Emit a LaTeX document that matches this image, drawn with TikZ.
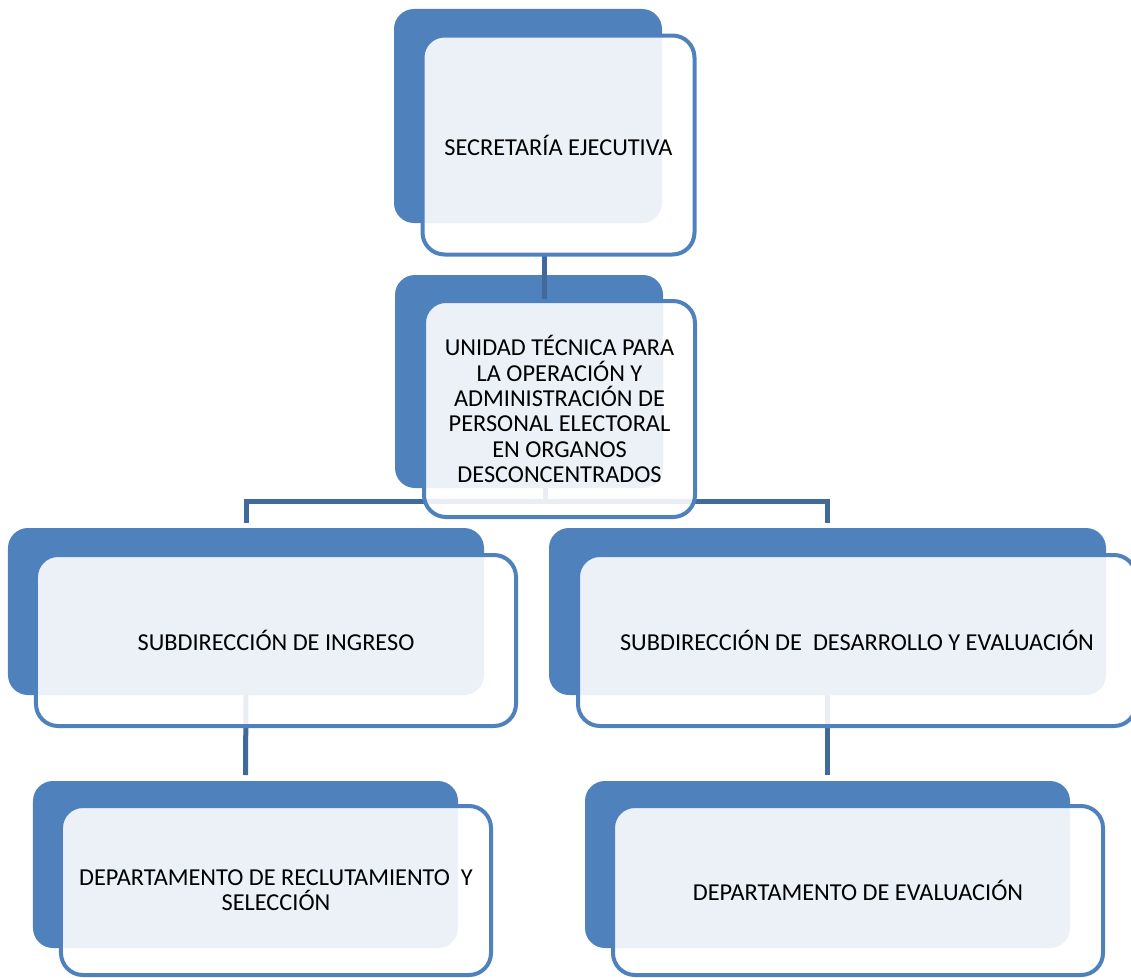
\documentclass[tikz,border=0pt]{standalone}
\usepackage{fontspec}
\setmainfont{Carlito}
\usetikzlibrary{calc}
\definecolor{accent}{HTML}{4F81BD}
\definecolor{conncol}{HTML}{41699C}
\pgfdeclarelayer{backl}
\pgfdeclarelayer{midl}
\pgfsetlayers{backl,midl,main}
\tikzset{
  backbox/.style={fill=accent, draw=none, rounded corners=20bp, inner sep=0pt, outer sep=0pt},
  frontbox/.style={draw=accent, line width=4bp, fill=white, fill opacity=0.89, text opacity=1,
    rounded corners=22bp, inner sep=0pt, outer sep=0pt, align=center, text=black,
    font=\fontsize{24.4}{25.4}\selectfont},
  conn/.style={draw=conncol, line width=5bp}
}
\begin{document}
\begin{tikzpicture}[x=1bp, y=-1bp]
\useasboundingbox (0,0) rectangle (1131,978);
\begin{pgfonlayer}{backl}
  \node[backbox, minimum width=268bp, minimum height=214bp] (secB) at (528,116) {};
  \node[backbox, minimum width=268bp, minimum height=213bp] (uniB) at (529,381.5) {};
  \node[backbox, minimum width=476bp, minimum height=167bp] (ingB) at (246,611.5) {};
  \node[backbox, minimum width=557bp, minimum height=167bp] (desB) at (827.5,611.5) {};
  \node[backbox, minimum width=425bp, minimum height=167bp] (depLB) at (245.5,864.5) {};
  \node[backbox, minimum width=485bp, minimum height=167bp] (depRB) at (827.5,864.5) {};
\end{pgfonlayer}
\node[frontbox, minimum width=272bp, minimum height=219bp] (secF) at (558.5,145) {SECRETARÍA EJECUTIVA};
\node[frontbox, minimum width=271bp, minimum height=216bp] (uniF) at (559.5,409)
  {UNIDAD TÉCNICA PARA\\LA OPERACIÓN Y\\ADMINISTRACIÓN DE\\PERSONAL ELECTORAL\\EN ORGANOS\\DESCONCENTRADOS};
\node[frontbox, minimum width=480bp, minimum height=171bp] (ingF) at (276,640.5) {SUBDIRECCIÓN DE INGRESO};
\node[frontbox, minimum width=558bp, minimum height=171bp] (desF) at (857,640.5) {SUBDIRECCIÓN DE\ \ DESARROLLO Y EVALUACIÓN};
\node[frontbox, minimum width=430bp, minimum height=169bp] (depLF) at (276,890.5) {DEPARTAMENTO DE RECLUTAMIENTO\ \ Y\\SELECCIÓN};
\node[frontbox, minimum width=490bp, minimum height=169bp] (depRF) at (858,890.5) {DEPARTAMENTO DE EVALUACIÓN};
\begin{pgfonlayer}{midl}
  \coordinate (c1) at ($(secB.south)!0.55!(secF.south)$);
  \coordinate (bus) at (545,501);
  \draw[conn] (c1 |- secF.south) -- (c1 |- uniF.north);
  \draw[conn] (uniB.south -| bus) -- (bus);
  \draw[conn] ([yshift=5bp]ingB.north) |- (bus) -| ([yshift=5bp]desB.north);
  \draw[conn] (ingB.south) -- ([yshift=6bp]depLB.north);
  \draw[conn] (desB.south) -- ([yshift=6bp]depRB.north);
\end{pgfonlayer}
\end{tikzpicture}
\end{document}
